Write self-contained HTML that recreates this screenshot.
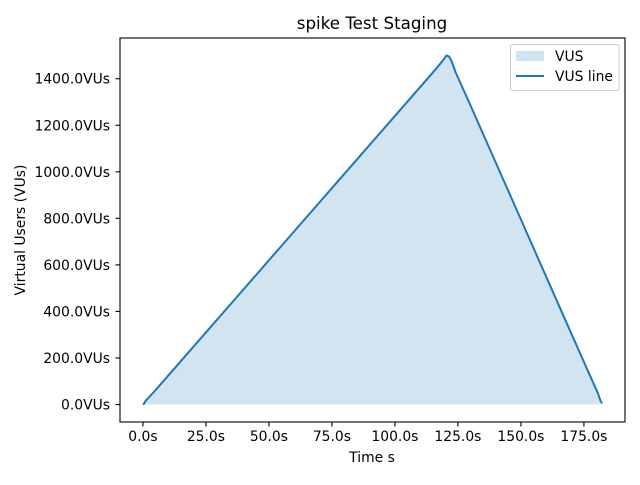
<!DOCTYPE html>
<html><head><meta charset="utf-8"><style>
body{margin:0;background:#fff}
text{font-family:"DejaVu Sans","Liberation Sans",sans-serif;fill:#000}
</style></head><body>
<svg id="c" width="640" height="480" xmlns="http://www.w3.org/2000/svg"></svg>
<script>
const times=[0,0.5,1,5,10,20,40,60,80,100,115,119,120.5,121.5,122.5,124,130,140,150,160,170,178,180.5,181.5,182.2];
const vus=[0,5,15,62,124,248,496,744,992,1240,1426,1478,1500,1495,1475,1430,1285,1040,795,550,305,110,50,18,5];
const xTicks=[0,25,50,75,100,125,150,175];
const yTicks=[0,200,400,600,800,1000,1200,1400];
const L=120,R=625,T=38,B=422,x0=-9.1,x1=191.3,y0=-75,y1=1575;
const X=v=>L+(v-x0)/(x1-x0)*(R-L), Y=v=>B-(v-y0)/(y1-y0)*(B-T);
const s=document.getElementById('c'),NS='http://www.w3.org/2000/svg';
function mk(t,a,txt,p){const e=document.createElementNS(NS,t);for(const k in a)e.setAttribute(k,a[k]);if(txt!=null)e.textContent=txt;(p||s).appendChild(e);return e;}
let pts=times.map((t,i)=>X(t)+','+Y(vus[i])).join(' ');
let area=mk('polygon',{points:pts+' '+X(times[times.length-1])+','+Y(0)+' '+X(0)+','+Y(0),fill:'#1f77b4','fill-opacity':0.2});

let ln=mk('polyline',{points:pts,fill:'none',stroke:'#1f77b4','stroke-width':2,'stroke-linejoin':'round'});

let fr=mk('rect',{x:L,y:T,width:R-L,height:B-T,fill:'none',stroke:'#000','stroke-width':1.1});

xTicks.forEach(v=>{const x=X(v);mk('line',{x1:x,x2:x,y1:B,y2:B+4.5,stroke:'#000','stroke-width':1.1});
 const t=mk('text',{x:x,y:B+19,'text-anchor':'middle','font-size':13.9},v.toFixed(1)+'s');
 });
yTicks.forEach(v=>{const y=Y(v);mk('line',{x1:L-4.5,x2:L,y1:y,y2:y,stroke:'#000','stroke-width':1.1});
 const t=mk('text',{x:L-10,y:y+5,'text-anchor':'end','font-size':13.9},v.toFixed(1)+'VUs');
 });
</script>
<svg style="position:absolute;left:0;top:0" width="640" height="480" xmlns="http://www.w3.org/2000/svg">
<text x="372" y="29" text-anchor="middle" font-size="16.7">spike Test Staging</text>
<text x="372" y="462" text-anchor="middle" font-size="13.9">Time s</text>
<text transform="translate(25,230) rotate(-90)" text-anchor="middle" font-size="13.9">Virtual Users (VUs)</text>
<g>
<rect x="510.5" y="44.5" width="108.5" height="46" rx="2" fill="#fff" fill-opacity="0.8" stroke="#ccc"/>
<rect x="516" y="51" width="28" height="10" fill="#1f77b4" fill-opacity="0.2"/>
<text x="555" y="61" font-size="13.9">VUS</text>
<line x1="516" x2="544" y1="76" y2="76" stroke="#1f77b4" stroke-width="2"/>
<text x="555" y="81" font-size="13.9">VUS line</text>
</g>
</svg>
</body></html>
